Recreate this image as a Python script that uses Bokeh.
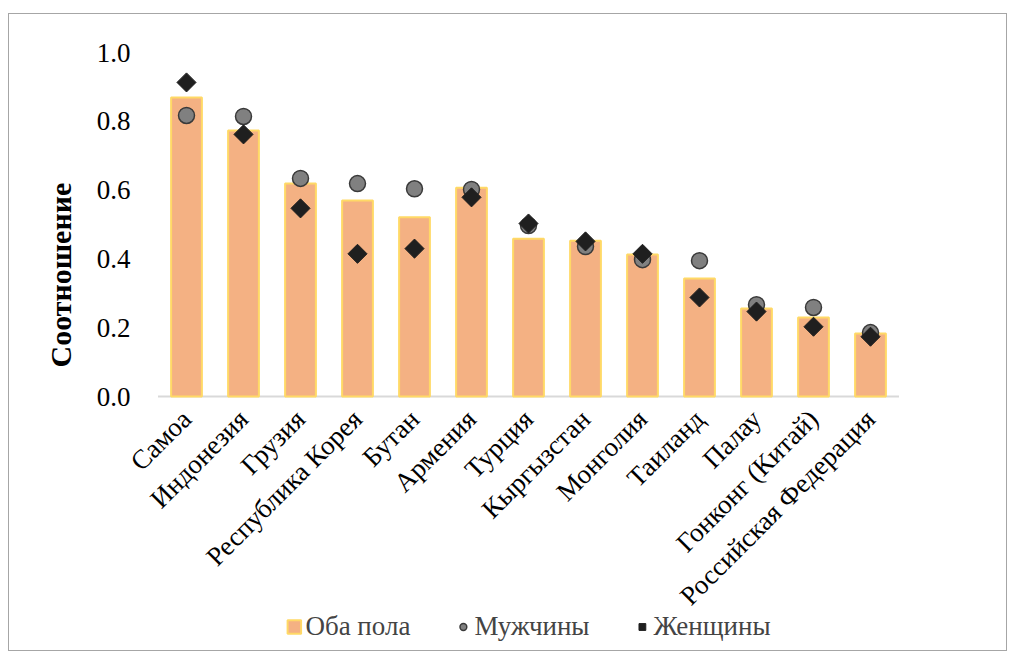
import math
from bokeh.plotting import figure
from bokeh.models import (ColumnDataSource, FactorRange, Range1d, FixedTicker,
                          NumeralTickFormatter, Legend, LegendItem, Title)
from bokeh.core.properties import value
from bokeh.embed import file_html
from bokeh.resources import INLINE

countries = ["Самоа", "Индонезия", "Грузия", "Республика Корея", "Бутан", "Армения",
             "Турция", "Кыргызстан", "Монголия", "Таиланд", "Палау",
             "Гонконг (Китай)", "Российская Федерация"]
both = [0.869, 0.773, 0.619, 0.570, 0.521, 0.607, 0.459, 0.453, 0.413, 0.343, 0.256, 0.230, 0.183]
men = [0.817, 0.814, 0.634, 0.619, 0.604, 0.602, 0.497, 0.436, 0.398, 0.395, 0.267, 0.259, 0.186]
women = [0.913, 0.762, 0.547, 0.415, 0.430, 0.579, 0.503, 0.451, 0.415, 0.288, 0.247, 0.203, 0.174]
yticks = [0.0, 0.2, 0.4, 0.6, 0.8, 1.0]
series_names = ["Оба пола", "Мужчины", "Женщины"]
y_title = "Соотношение"

FONT = "Liberation Serif"
FS = "27px"

src = ColumnDataSource(dict(c=countries, both=both, men=men, women=women,
                            base=[0.0] * len(countries)))

# frame extends below the zero line (category labels + legend) and half a band on each side
p = figure(x_range=FactorRange(*countries, range_padding=0.5, range_padding_units="absolute"),
           y_range=Range1d(-0.738, 1.0),
           frame_width=798, frame_height=598, output_backend="svg", toolbar_location=None,
           min_border_left=120, min_border_right=79, min_border_top=38, min_border_bottom=0)
p.styles = {"border": "1px solid #a6a6a6", "margin-left": "8px", "margin-top": "13px"}
p.outline_line_color = None
p.xgrid.grid_line_color = None
p.ygrid.grid_line_color = None
p.xaxis.visible = False

# category axis line (one band per category, 2px high)
p.rect(x="c", y="base", width=1.0, height=2, height_units="screen", source=src,
       fill_color="#d9d9d9", line_color=None)

bars = p.vbar(x="c", top="both", width=0.54, source=src, fill_color="#F4B183",
              line_color="#FFD966", line_width=2)
circ = p.scatter(x="c", y="men", source=src, marker="circle", size=16,
                 fill_color="#808080", line_color="#3a3a3a", line_width=1.5)
dia = p.scatter(x="c", y="women", source=src, marker="square", angle=math.pi / 4,
                size=13.5, fill_color="#1f1f1f", line_color="#1f1f1f", line_width=1)

p.text(x="c", y="base", text="c", source=src, angle=math.pi / 4,
       text_align="right", text_baseline="middle", y_offset=18,
       text_font=value(FONT), text_font_size=FS, text_color="#000000")

p.yaxis.ticker = FixedTicker(ticks=yticks)
p.yaxis.formatter = NumeralTickFormatter(format="0.0")
p.yaxis.axis_line_color = None
p.yaxis.major_tick_line_color = None
p.yaxis.minor_tick_line_color = None
p.yaxis.major_tick_out = 0
p.yaxis.major_tick_in = 0
p.yaxis.major_label_text_font = FONT
p.yaxis.major_label_text_font_size = FS
p.yaxis.major_label_text_color = "#000000"
p.yaxis.major_label_standoff = -1

p.add_layout(Title(text=y_title, align="left", offset=283, standoff=34,
                   text_font=FONT, text_font_size="30px", text_font_style="bold",
                   text_color="#000000"), "left")

legend = Legend(items=[LegendItem(label=series_names[0], renderers=[bars]),
                       LegendItem(label=series_names[1], renderers=[circ]),
                       LegendItem(label=series_names[2], renderers=[dia])],
                orientation="horizontal", location="bottom_center",
                label_text_font=FONT, label_text_font_size=FS,
                glyph_width=17, glyph_height=17, spacing=44, padding=0, margin=8,
                border_line_color=None, background_fill_alpha=0, label_standoff=3)
p.add_layout(legend, "center")

open("out.html", "w").write(file_html(p, INLINE))
